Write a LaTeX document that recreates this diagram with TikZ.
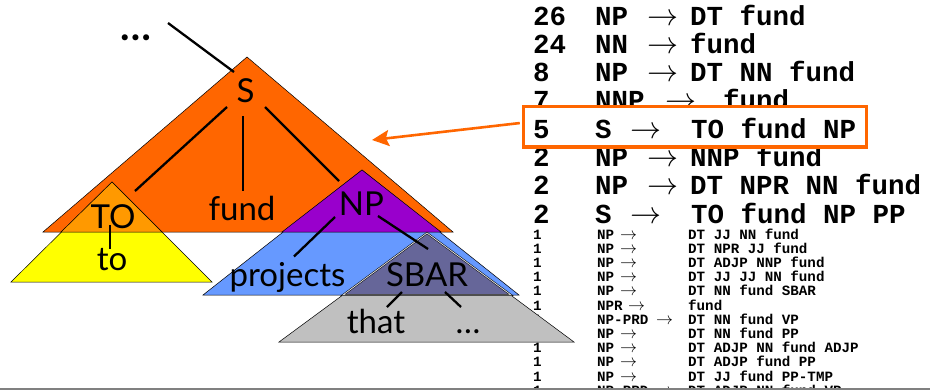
\RequirePackage{fix-cm}
\documentclass[tikz,border=0pt]{standalone}
\usepackage{fontspec}
\setmainfont{Lato}
\newfontfamily\monof{Liberation Mono}
\usetikzlibrary{arrows.meta}
\definecolor{sorange}{HTML}{FF6600}
\definecolor{toorange}{HTML}{FF9900}
\definecolor{yel}{HTML}{FFFF00}
\definecolor{purp}{HTML}{9900CC}
\definecolor{blu}{HTML}{6699FF}
\definecolor{sbarc}{HTML}{666699}
\definecolor{gry}{HTML}{C0C0C0}
\begin{document}
\begin{tikzpicture}[x=1pt,y=-1pt,
  tri/.style={draw=black, line width=0.5pt},
  edge/.style={line width=2.3pt, draw=black},
  lab/.style={font=\fontsize{33}{36}\selectfont, inner sep=0pt, anchor=base},
  big/.style={font=\monof\bfseries\fontsize{27.5}{30}\selectfont, inner sep=0pt, anchor=base west},
  barr/.style={font=\fontsize{31}{31}\selectfont, inner sep=0pt, anchor=base west},
  small/.style={font=\monof\bfseries\fontsize{14.2}{16}\selectfont, inner sep=0pt, anchor=base west},
  sarr/.style={font=\fontsize{17}{17}\selectfont, inner sep=0pt, anchor=base west},
  conn/.style={draw=sorange, line width=2.6pt, -{Stealth[length=17pt,width=16pt,inset=3pt]}}]
\useasboundingbox (0,0) rectangle (930,391);
\fill[white] (0,0) rectangle (930,391);

% large rule list
\foreach \i/\c/\l/\ax/\rx/\r in {1/26/NP/647/690/DT fund, 2/24/NN/647/690/fund, 3/8/NP/647/690/DT NN fund, 4/7/NNP/665/723/fund, 6/2/NP/647/690/NNP fund, 7/2/NP/647/690/DT NPR NN fund, 8/2/S/630/691/TO fund NP PP}{
  \pgfmathsetmacro\yy{25+28.3*(\i-1)}
  \node[big] (bn\i) at (533,\yy) {\c};
  \node[big] (bl\i) at (595,\yy) {\l};
  \node[barr] (ba\i) at (\ax,\yy) {$\rightarrow$};
  \node[big] (br\i) at (\rx,\yy) {\r};
}
% small rule list
\foreach \i/\l/\ax/\r in {0/NP/620/DT JJ NN fund, 1/NP/620/DT NPR JJ fund, 2/NP/620/DT ADJP NNP fund, 3/NP/620/DT JJ JJ NN fund, 4/NP/620/DT NN fund SBAR, 5/NPR/628/fund, 6/NP-PRD/656/DT NN fund VP, 7/NP/620/DT NN fund PP, 8/NP/620/DT ADJP NN fund ADJP, 9/NP/620/DT ADJP fund PP, 10/NP/620/DT JJ fund PP-TMP, 11/NP-PRD/656/DT ADJP NN fund VP}{
  \pgfmathsetmacro\yy{239+14.2*\i}
  \node[small] (sn\i) at (533,\yy) {1};
  \node[small] (sl\i) at (597,\yy) {\l};
  \node[sarr] (sa\i) at (\ax,\yy) {$\rightarrow$};
  \node[small] (sr\i) at (688,\yy) {\r};
}
% highlight box and its row
\node[draw=sorange, line width=3.2pt, fill=white, minimum width=343.2pt, minimum height=40.3pt, inner sep=0pt] (box) at (695,126.85) {};
\node[big] (bn5) at (533,138.2) {5};
\node[big] (bl5) at (595,138.2) {S};
\node[barr] (ba5) at (630,138.2) {$\rightarrow$};
\node[big] (br5) at (691,138.2) {TO fund NP};

% tree triangles
\filldraw[tri, fill=sorange] (43,232) -- (247,57) -- (453,232) -- cycle;
\filldraw[tri, fill=yel] (11,282) -- (112,182) -- (212,282) -- cycle;
\filldraw[tri, fill=toorange] (61,232) -- (112,182) -- (162,232) -- cycle;
\filldraw[tri, fill=blu] (203,295) -- (362,170) -- (519,295) -- cycle;
\filldraw[tri, fill=purp] (282,232) -- (362,170) -- (441,232) -- cycle;
\filldraw[tri, fill=gry] (279,342) -- (427,233) -- (574,342) -- cycle;
\filldraw[draw=black, line width=0.5pt, double=white!75!gray, double distance=0.8pt, fill=sbarc] (343,295) -- (427,233) -- (511,295) -- cycle;

% tree labels
\node[lab] (S) at (245.5,102) {S};
\node[lab] (TO) at (113,228) {TO};
\node[lab] (to) at (112,270) {to};
\node[lab] (fund) at (242,220) {fund};
\node[lab] (NP) at (361.5,215) {NP};
\node[lab] (projects) at (287.5,286.5) {projects};
\node[lab] (SBAR) at (427,286) {SBAR};
\node[lab] (that) at (376,333) {that};
\node[lab] (tdots) at (468,333) {\dots};
\node[lab, font=\bfseries\fontsize{40}{40}\selectfont] (updots) at (136,40) {\dots};
\coordinate (up) at (168,23);

% tree edges
\draw[edge] (up) -- ([shift={(-11.5,-30)}]S.base);
\draw[edge] ([shift={(-18.5,5)}]S.base) -- ([shift={(22,-37)}]TO.base);
\draw[edge] ([shift={(-2.5,14)}]S.base) -- ([shift={(1,-29)}]fund.base);
\draw[edge] ([shift={(19.5,5)}]S.base) -- ([shift={(-22.5,-34)}]NP.base);
\draw[edge] ([shift={(-3,-3)}]TO.base) -- ([shift={(-2,-21)}]to.base);
\draw[edge] ([shift={(-26.5,2)}]NP.base) -- ([shift={(6.5,-30)}]projects.base);
\draw[edge] ([shift={(16.5,1)}]NP.base) -- ([shift={(1,-37)}]SBAR.base);
\draw[edge] ([shift={(-25,6)}]SBAR.base) -- ([shift={(11,-26)}]that.base);
\draw[edge] ([shift={(18,6)}]SBAR.base) -- ([shift={(-7,-26)}]tdots.base);

% pointer from box to tree
\coordinate (tip) at (372,140);
\draw[conn] ([shift={(-2,-3.8)}]box.west) -- (tip);

% bottom rule
\fill[white] (0,389) rectangle (930,391);
\draw[draw=gray, line width=1.3pt] (0,389) -- (930,389);
\end{tikzpicture}
\end{document}
